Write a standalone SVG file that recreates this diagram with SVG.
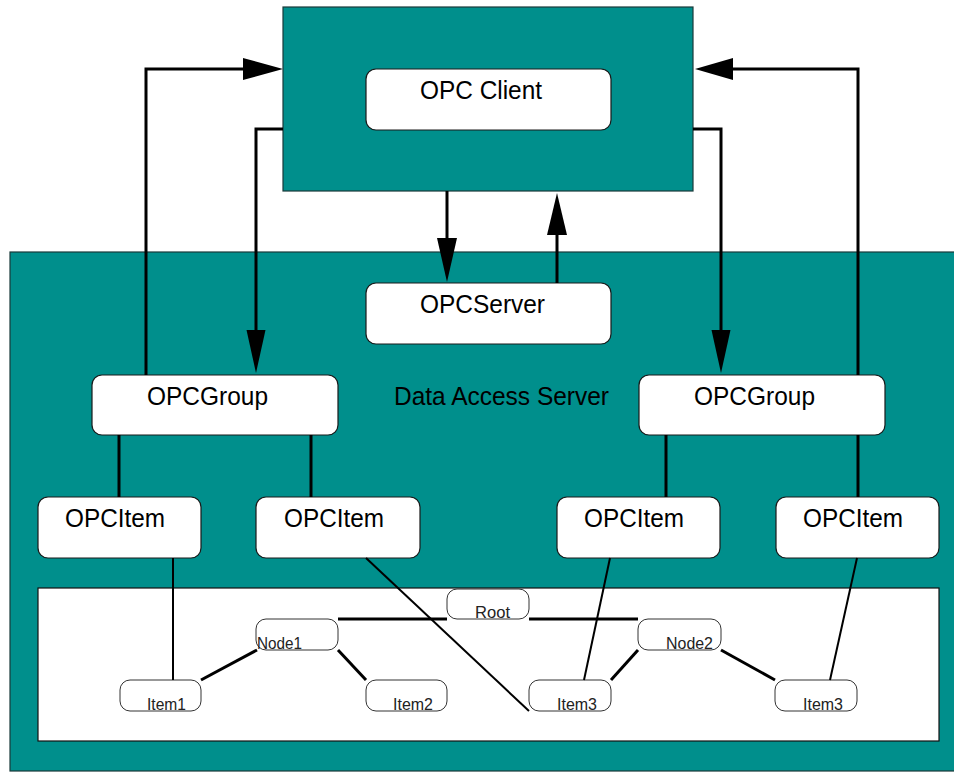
<svg xmlns="http://www.w3.org/2000/svg" width="954" height="772" viewBox="0 0 954 772">
<defs>
<style>
.teal{fill:#008F8C;stroke:#1a3a3a;stroke-width:1.2}
.box{fill:#ffffff;stroke:#1a1a1a;stroke-width:1.2}
.tbox{fill:#ffffff;stroke:#333333;stroke-width:1}
.big{font-family:"Liberation Sans",Arial,sans-serif;font-size:26px;fill:#000}
.small{font-family:"Liberation Sans",Arial,sans-serif;font-size:17px;fill:#222}
.conn{stroke:#000;stroke-width:3;fill:none}
.map{stroke:#000;stroke-width:2;fill:none}
.head{fill:#000}
</style>
</defs>
<rect width="954" height="772" fill="#ffffff"/>
<g id="data-access-server">
<rect class="teal" x="10" y="252" width="950" height="519"/>
<text class="big" x="394" y="405" textLength="215" lengthAdjust="spacingAndGlyphs">Data Access Server</text>
</g>
<g id="tree-panel">
<rect x="38" y="588" width="901" height="153" fill="#ffffff" stroke="#111" stroke-width="1.2"/>
</g>
<g id="opc-client-frame">
<rect class="teal" x="283" y="7" width="410" height="184"/>
</g>
<g id="opc-client">
<rect class="box" x="366" y="69" width="245" height="61" rx="10"/>
<text class="big" x="420" y="99" textLength="122" lengthAdjust="spacingAndGlyphs">OPC Client</text>
</g>
<g id="opc-server">
<rect class="box" x="366" y="283" width="245" height="61" rx="10"/>
<text class="big" x="420" y="313" textLength="125" lengthAdjust="spacingAndGlyphs">OPCServer</text>
</g>
<g id="opc-group-left">
<rect class="box" x="92" y="375" width="246" height="60" rx="10"/>
<text class="big" x="147" y="405" textLength="121" lengthAdjust="spacingAndGlyphs">OPCGroup</text>
</g>
<g id="opc-group-right">
<rect class="box" x="639" y="375" width="246" height="60" rx="10"/>
<text class="big" x="694" y="405" textLength="121" lengthAdjust="spacingAndGlyphs">OPCGroup</text>
</g>
<g id="opc-item-1">
<rect class="box" x="38" y="497" width="163" height="61" rx="10"/>
<text class="big" x="65" y="527" textLength="100" lengthAdjust="spacingAndGlyphs">OPCItem</text>
</g>
<g id="opc-item-2">
<rect class="box" x="256" y="497" width="164" height="61" rx="10"/>
<text class="big" x="284" y="527" textLength="100" lengthAdjust="spacingAndGlyphs">OPCItem</text>
</g>
<g id="opc-item-3">
<rect class="box" x="557" y="497" width="163" height="61" rx="10"/>
<text class="big" x="584" y="527" textLength="100" lengthAdjust="spacingAndGlyphs">OPCItem</text>
</g>
<g id="opc-item-4">
<rect class="box" x="776" y="497" width="163" height="61" rx="10"/>
<text class="big" x="803" y="527" textLength="100" lengthAdjust="spacingAndGlyphs">OPCItem</text>
</g>
<g id="tree-root">
<rect class="tbox" x="447" y="589" width="82" height="30" rx="10"/>
<text class="small" x="475" y="618" textLength="35" lengthAdjust="spacingAndGlyphs">Root</text>
</g>
<g id="tree-node1">
<rect class="tbox" x="256" y="619" width="82" height="31" rx="10"/>
<text class="small" x="257" y="649" textLength="45" lengthAdjust="spacingAndGlyphs">Node1</text>
</g>
<g id="tree-node2">
<rect class="tbox" x="638" y="619" width="83" height="31" rx="10"/>
<text class="small" x="666" y="649" textLength="47" lengthAdjust="spacingAndGlyphs">Node2</text>
</g>
<g id="tree-item1">
<rect class="tbox" x="120" y="680" width="81" height="31" rx="10"/>
<text class="small" x="147" y="710" textLength="39" lengthAdjust="spacingAndGlyphs">Item1</text>
</g>
<g id="tree-item2">
<rect class="tbox" x="366" y="680" width="81" height="31" rx="10"/>
<text class="small" x="393" y="710" textLength="40" lengthAdjust="spacingAndGlyphs">Item2</text>
</g>
<g id="tree-item3a">
<rect class="tbox" x="529" y="680" width="82" height="31" rx="10"/>
<text class="small" x="557" y="710" textLength="40" lengthAdjust="spacingAndGlyphs">Item3</text>
</g>
<g id="tree-item3b">
<rect class="tbox" x="775" y="680" width="82" height="31" rx="10"/>
<text class="small" x="803" y="710" textLength="40" lengthAdjust="spacingAndGlyphs">Item3</text>
</g>
<g id="connectors">
<polyline class="conn" points="146,375 146,69 245,69"/>
<polygon class="head" points="283,69 243,58 243,80"/>
<polyline class="conn" points="283,129 256,129 256,332"/>
<polygon class="head" points="256,373 246.5,330 265.5,330"/>
<line class="conn" x1="447" y1="191" x2="447" y2="240"/>
<polygon class="head" points="447,282 437,238 457,238"/>
<line class="conn" x1="557" y1="283" x2="557" y2="234"/>
<polygon class="head" points="557,193 547,235 567,235"/>
<polyline class="conn" points="693,129 721,129 721,332"/>
<polygon class="head" points="721,373 711.5,330 730.5,330"/>
<polyline class="conn" points="858,375 858,69 731,69"/>
<polygon class="head" points="695,69 733,58 733,80"/>
<line class="conn" x1="119" y1="435" x2="119" y2="497"/>
<line class="conn" x1="311" y1="435" x2="311" y2="497"/>
<line class="conn" x1="666" y1="435" x2="666" y2="497"/>
<line class="conn" x1="858" y1="435" x2="858" y2="497"/>
<line class="conn" x1="338" y1="619" x2="447" y2="619"/>
<line class="conn" x1="529" y1="619" x2="638" y2="619"/>
<line class="conn" x1="257" y1="650" x2="201" y2="680"/>
<line class="conn" x1="338" y1="650" x2="366" y2="680"/>
<line class="conn" x1="638" y1="650" x2="611" y2="680"/>
<line class="conn" x1="721" y1="650" x2="775" y2="680"/>
<line class="map" x1="173" y1="558" x2="173" y2="680"/>
<line class="map" x1="366" y1="558" x2="529" y2="711"/>
<line class="map" x1="610" y1="558" x2="584" y2="680"/>
<line class="map" x1="857" y1="558" x2="830" y2="680"/>
</g>
</svg>
